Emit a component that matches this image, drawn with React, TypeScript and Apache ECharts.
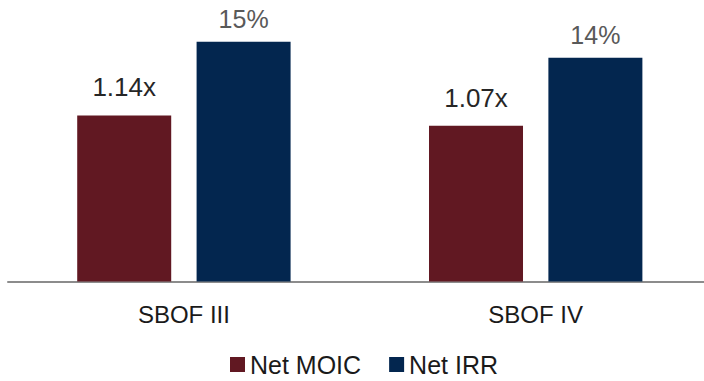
import React, { useEffect, useRef } from "react";
import * as echarts from "echarts";

// Fund returns by vintage
const funds = ["SBOF III", "SBOF IV"];
const netMoic = [1.14, 1.07];
const netIrr = [15, 14];
const seriesNames = ["Net MOIC", "Net IRR"];

const FONT = "'Liberation Sans', Arial, Helvetica, sans-serif";

export default function App() {
  const ref = useRef<HTMLDivElement>(null);

  useEffect(() => {
    if (!ref.current) return;
    const chart = echarts.init(ref.current, null, { renderer: "svg", width: 704, height: 381 });
    chart.setOption({
      animation: false,
      textStyle: { fontFamily: FONT },
      grid: {
        left: 8,
        right: -7.6,
        top: 19.3,
        bottom: 99.5,
        containLabel: false,
        outerBoundsMode: "none",
      },
      legend: {
        data: seriesNames,
        left: 225,
        top: 347,
        icon: "rect",
        itemWidth: 15,
        itemHeight: 15,
        itemGap: 28,
        textStyle: { fontFamily: FONT, fontSize: 25, color: "#1a1a1a" },
      },
      xAxis: {
        type: "category",
        data: funds,
        axisLine: { show: true, lineStyle: { color: "#8c8c8c", width: 2 } },
        axisTick: { show: false },
        axisLabel: { fontFamily: FONT, fontSize: 24, color: "#1a1a1a", margin: 21 },
      },
      yAxis: [
        { type: "value", min: 0, max: 1.8, show: false, splitLine: { show: false } },
        { type: "value", min: 0, max: 16.4, show: false, splitLine: { show: false } },
      ],
      series: [
        {
          name: seriesNames[0],
          type: "bar",
          yAxisIndex: 0,
          data: netMoic,
          barWidth: 94,
          barGap: "27%",
          itemStyle: { color: "#611822" },
          label: {
            show: true,
            position: "top",
            distance: 15,
            fontFamily: FONT,
            fontSize: 26,
            color: "#262626",
            formatter: (p: any) => `${p.value.toFixed(2)}x`,
          },
        },
        {
          name: seriesNames[1],
          type: "bar",
          yAxisIndex: 1,
          data: netIrr,
          barWidth: 94,
          itemStyle: { color: "#03264F" },
          label: {
            show: true,
            position: "top",
            distance: 10,
            fontFamily: FONT,
            fontSize: 25,
            color: "#595959",
            formatter: (p: any) => `${p.value}%`,
          },
        },
      ],
    });
    return () => chart.dispose();
  }, []);

  return (
    <div
      ref={ref}
      style={{ position: "absolute", left: 0, top: 0, width: 704, height: 381, overflow: "hidden" }}
    />
  );
}
